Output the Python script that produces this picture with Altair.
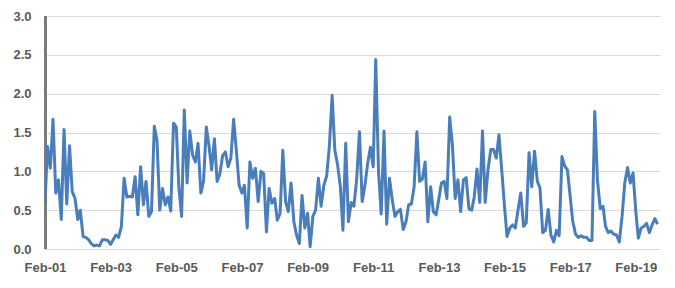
import altair as alt
import pandas as pd

# Monthly values, Feb 2001 onward
values = [
    0.59, 1.32, 1.04, 1.67, 0.72, 0.89, 0.38, 1.54, 0.58, 1.33,
    0.74, 0.65, 0.38, 0.50, 0.16, 0.15, 0.12, 0.07, 0.04, 0.05,
    0.04, 0.12, 0.12, 0.11, 0.06, 0.12, 0.18, 0.15, 0.29, 0.91,
    0.67, 0.68, 0.67, 0.93, 0.44, 1.06, 0.57, 0.87, 0.42, 0.48,
    1.58, 1.40, 0.50, 0.78, 0.57, 0.67, 0.49, 1.62, 1.57, 0.80,
    0.42, 1.79, 0.85, 1.52, 1.21, 1.12, 1.36, 0.72, 0.87, 1.57,
    1.32, 1.02, 1.42, 0.87, 0.97, 1.20, 1.25, 1.06, 1.17, 1.67,
    1.27, 0.82, 0.72, 0.82, 0.27, 1.12, 0.91, 1.04, 0.61, 1.00,
    0.97, 0.22, 0.78, 0.59, 0.65, 0.37, 0.46, 1.27, 0.61, 0.48,
    0.85, 0.35, 0.18, 0.07, 0.69, 0.27, 0.46, 0.03, 0.42, 0.50,
    0.91, 0.55, 0.82, 0.94, 1.32, 1.98, 1.27, 1.08, 0.80, 0.24,
    1.36, 0.35, 0.60, 0.55, 0.90, 1.51, 0.61, 0.82, 1.10, 1.31,
    1.06, 2.44, 1.00, 0.45, 1.52, 0.32, 0.91, 0.63, 0.42, 0.48,
    0.51, 0.25, 0.35, 0.57, 0.58, 0.80, 1.51, 0.87, 0.90, 1.12,
    0.35, 0.80, 0.48, 0.44, 0.65, 0.85, 0.87, 0.65, 1.70, 1.34,
    0.65, 0.89, 0.48, 0.89, 0.92, 0.52, 0.50, 0.67, 1.03, 0.60,
    1.52, 0.60, 1.02, 1.28, 1.28, 1.17, 1.47, 1.02, 0.55, 0.16,
    0.27, 0.31, 0.27, 0.50, 0.72, 0.29, 0.34, 1.24, 0.80, 1.26,
    0.87, 0.79, 0.21, 0.24, 0.51, 0.18, 0.09, 0.24, 0.17, 1.19,
    1.07, 1.02, 0.67, 0.36, 0.19, 0.15, 0.17, 0.15, 0.15, 0.11,
    0.11, 1.77, 0.89, 0.52, 0.55, 0.29, 0.21, 0.23, 0.19, 0.18,
    0.09, 0.42, 0.85, 1.05, 0.85, 0.98, 0.48, 0.14, 0.27, 0.29,
    0.33, 0.21, 0.31, 0.39, 0.32,
]
dates = pd.date_range("2001-02-01", periods=len(values), freq="MS")
label_years = list(range(2001, 2020, 2))
y_ticks = [0.0, 0.5, 1.0, 1.5, 2.0, 2.5, 3.0]

df = pd.DataFrame({"date": dates, "value": values})

label_font = "Liberation Sans"
label_color = "#595959"

base = alt.Chart(df)

yaxis_line = base.mark_rule(color="#7f7f7f", strokeWidth=1.2).encode(
    x=alt.value(0.5), y=alt.value(0), y2=alt.value(233)
)

line = base.mark_line(
    color="#4A7EBB", strokeWidth=3, strokeJoin="round", clip=True
).encode(
    x=alt.X(
        "date:T",
        scale=alt.Scale(domain=[alt.DateTime(year=2001, month=2, date=1),
                                alt.DateTime(year=2019, month=10, date=28)]),
        axis=alt.Axis(
            title=None,
            values=[alt.DateTime(year=y, month=2, date=1) for y in label_years],
            format="%b-%y",
            grid=False,
            ticks=False,
            domainColor="#d9d9d9",
            labelFont=label_font,
            labelFontSize=13,
            labelFontWeight="bold",
            labelColor=label_color,
            labelPadding=12,
            labelFlush=False,
            labelOverlap=False,
        ),
    ),
    y=alt.Y(
        "value:Q",
        scale=alt.Scale(domain=[0, 3], nice=False),
        axis=alt.Axis(
            title=None,
            values=y_ticks,
            format=".1f",
            grid=True,
            gridColor="#d9d9d9",
            gridWidth=1,
            ticks=False,
            domain=True,
            domainColor="#7f7f7f",
            domainWidth=1,
            labelFont=label_font,
            labelFontSize=13,
            labelFontWeight="bold",
            labelColor=label_color,
            labelPadding=14,
        ),
    ),
)

chart = alt.layer(yaxis_line, line).properties(
    width=615,
    height=233,
    autosize=alt.AutoSizeParams(type="none"),
    padding={"left": 37, "top": 8, "right": 7, "bottom": 30},
).configure_view(stroke=None)

chart.save("out.html", embed_options={"renderer": "svg", "actions": False})
